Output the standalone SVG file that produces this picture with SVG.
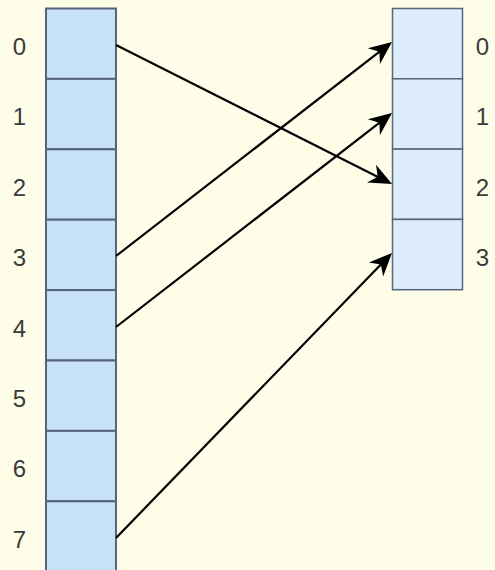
<svg xmlns="http://www.w3.org/2000/svg" width="495" height="570" viewBox="0 0 495 570">
  <style>
    .bg { fill: #fdfde8; }
    .lc { fill: #c6e1f8; stroke: #56657a; stroke-width: 2; }
    .rc { fill: #ddecfc; stroke: #56657a; stroke-width: 1.5; }
    .lbl { font-family: "Liberation Sans", Arial, sans-serif; font-size: 24px; fill: #3a3a3a; text-anchor: middle; }
    .edge { fill: none; stroke: #000000; stroke-width: 2.2; marker-end: url(#arrow); }
  </style>
  <defs>
    <marker id="arrow" viewBox="-26 -12 28 24" refX="-8" refY="0" markerWidth="28" markerHeight="24" markerUnits="userSpaceOnUse" orient="auto">
      <path d="M0,0 L-23,-10 L-16,0 L-23,10 Z" fill="#000000"/>
    </marker>
  </defs>
  <rect class="bg" x="0" y="0" width="495" height="570"/>

  <g id="left-array">
    <g id="left-0"><rect class="lc" x="46" y="8.5" width="70" height="70.4"/><text class="lbl" x="19.5" y="55">0</text></g>
    <g id="left-1"><rect class="lc" x="46" y="78.9" width="70" height="70.4"/><text class="lbl" x="19.5" y="125.4">1</text></g>
    <g id="left-2"><rect class="lc" x="46" y="149.3" width="70" height="70.4"/><text class="lbl" x="19.5" y="195.8">2</text></g>
    <g id="left-3"><rect class="lc" x="46" y="219.7" width="70" height="70.4"/><text class="lbl" x="19.5" y="266.2">3</text></g>
    <g id="left-4"><rect class="lc" x="46" y="290.1" width="70" height="70.4"/><text class="lbl" x="19.5" y="336.6">4</text></g>
    <g id="left-5"><rect class="lc" x="46" y="360.5" width="70" height="70.4"/><text class="lbl" x="19.5" y="407">5</text></g>
    <g id="left-6"><rect class="lc" x="46" y="430.9" width="70" height="70.4"/><text class="lbl" x="19.5" y="477.4">6</text></g>
    <g id="left-7"><rect class="lc" x="46" y="501.3" width="70" height="70.4"/><text class="lbl" x="19.5" y="547.8">7</text></g>
  </g>

  <g id="right-array">
    <g id="right-0"><rect class="rc" x="392.5" y="8.5" width="70" height="70.3"/><text class="lbl" x="482.5" y="55">0</text></g>
    <g id="right-1"><rect class="rc" x="392.5" y="78.8" width="70" height="70.3"/><text class="lbl" x="482.5" y="125.3">1</text></g>
    <g id="right-2"><rect class="rc" x="392.5" y="149.1" width="70" height="70.3"/><text class="lbl" x="482.5" y="195.6">2</text></g>
    <g id="right-3"><rect class="rc" x="392.5" y="219.4" width="70" height="70.3"/><text class="lbl" x="482.5" y="265.9">3</text></g>
  </g>

  <g id="connectors">
    <path class="edge" d="M116,45 L384.9,180.4"/>
    <path class="edge" d="M116,256 L385.7,46.9"/>
    <path class="edge" d="M116,327 L385.7,117.9"/>
    <path class="edge" d="M116,538 L386.4,258.7"/>
  </g>
</svg>
